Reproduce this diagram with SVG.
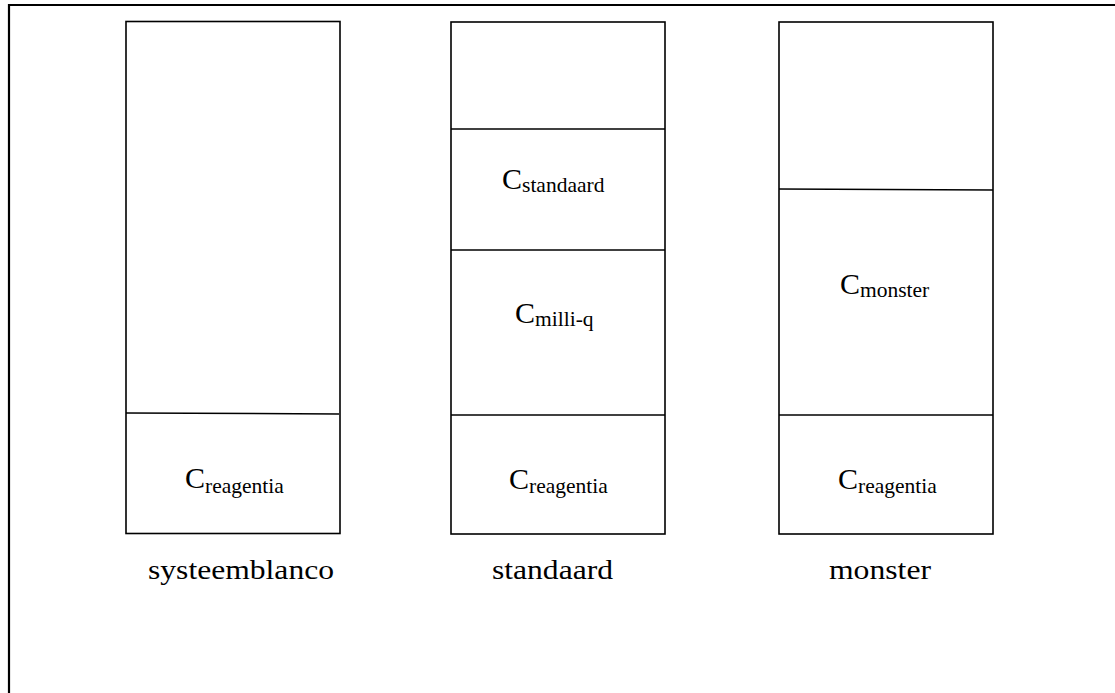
<svg xmlns="http://www.w3.org/2000/svg" width="1115" height="693" viewBox="0 0 1115 693" font-family="'Liberation Serif', 'Times New Roman', 'DejaVu Serif', serif">
<style>
.box{fill:#fff;stroke:#000;stroke-width:1.6}
.div{stroke:#000;stroke-width:1.5;fill:none}
.frame{fill:none;stroke:#000;stroke-width:2.2}
.big{font-size:30px;fill:#000}
.sub{font-size:21.5px}
.lbl{font-size:28px;fill:#000}
</style>
<rect width="1115" height="693" fill="#fff"/>
<path class="frame" d="M9,693 V5 H1115"/>
<g id="systeemblanco">
<rect class="box" x="126" y="21.5" width="214" height="512"/>
<line class="div" x1="126" y1="413" x2="339" y2="414"/>
<text class="big" font-family="Liberation Serif, serif" x="185" y="488">C<tspan class="sub" y="492.5">reagentia</tspan></text>
<text class="lbl" font-family="Liberation Serif, serif" x="148" y="579" textLength="186" lengthAdjust="spacingAndGlyphs">systeemblanco</text>
</g>
<g id="standaard">
<rect class="box" x="451" y="22" width="214" height="512"/>
<line class="div" x1="451" y1="129" x2="665" y2="129"/>
<line class="div" x1="451" y1="250" x2="665" y2="250"/>
<line class="div" x1="451" y1="415" x2="665" y2="415"/>
<text class="big" font-family="Liberation Serif, serif" x="502" y="189">C<tspan class="sub" y="192">standaard</tspan></text>
<text class="big" font-family="Liberation Serif, serif" x="515" y="323">C<tspan class="sub" y="326">milli-q</tspan></text>
<text class="big" font-family="Liberation Serif, serif" x="509" y="489">C<tspan class="sub" y="493">reagentia</tspan></text>
<text class="lbl" font-family="Liberation Serif, serif" x="492" y="579" textLength="121" lengthAdjust="spacingAndGlyphs">standaard</text>
</g>
<g id="monster">
<rect class="box" x="779" y="22" width="214" height="512"/>
<line class="div" x1="779" y1="189" x2="993" y2="190"/>
<line class="div" x1="779" y1="415" x2="993" y2="415"/>
<text class="big" font-family="Liberation Serif, serif" x="840" y="294">C<tspan class="sub" y="297">monster</tspan></text>
<text class="big" font-family="Liberation Serif, serif" x="838" y="489">C<tspan class="sub" y="493">reagentia</tspan></text>
<text class="lbl" font-family="Liberation Serif, serif" x="829" y="579" textLength="102" lengthAdjust="spacingAndGlyphs">monster</text>
</g>
<g id="connectors"></g>
</svg>
